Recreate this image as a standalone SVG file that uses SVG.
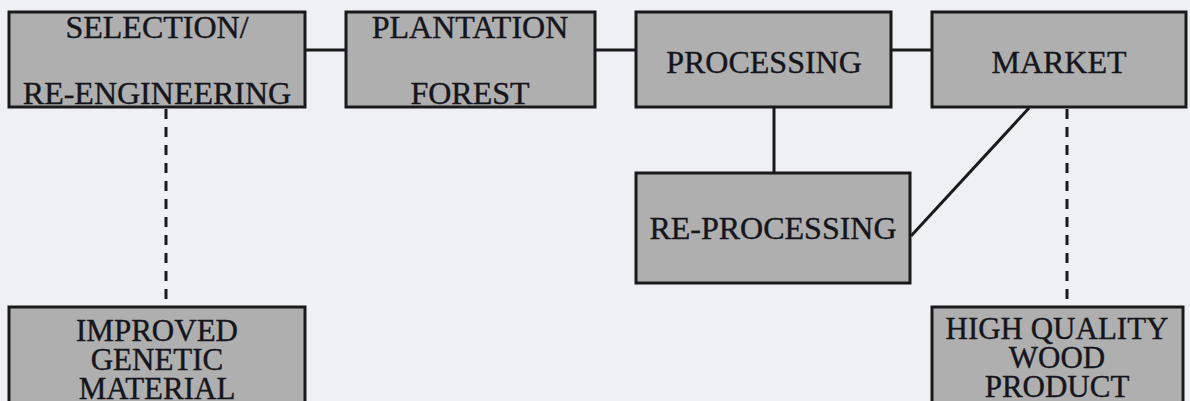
<svg xmlns="http://www.w3.org/2000/svg" width="1190" height="401" viewBox="0 0 1190 401">
<style>
.box{fill:#afafaf;stroke:#1a1a1a;stroke-width:3}
.lbl{font-family:"Liberation Serif","Times New Roman",serif;font-size:32px;fill:#15151c;stroke:#15151c;stroke-width:0.4;text-anchor:middle}
.sm{font-size:31px}
.solid{stroke:#1a1a1a;stroke-width:3;fill:none}
.dash{stroke:#1a1a1a;stroke-width:3;fill:none;stroke-dasharray:10 8}
</style>
<rect width="1190" height="401" fill="#eef0f4"/>
<g id="connectors">
<line class="solid" x1="305" y1="50" x2="346" y2="50"/>
<line class="solid" x1="595" y1="50" x2="636" y2="50"/>
<line class="solid" x1="891" y1="50" x2="932" y2="50"/>
<line class="solid" x1="774" y1="107" x2="774" y2="173"/>
<line class="solid" x1="1029" y1="108" x2="911" y2="236"/>
<line class="dash" x1="166" y1="109" x2="166" y2="307"/>
<line class="dash" x1="1067" y1="109" x2="1067" y2="307"/>
</g>
<g id="selection">
<rect class="box" x="9" y="12" width="296" height="95"/>
<text class="lbl" x="157" y="38">SELECTION/</text>
<text class="lbl" x="157" y="104">RE-ENGINEERING</text>
</g>
<g id="plantation">
<rect class="box" x="346" y="12" width="249" height="95"/>
<text class="lbl" x="470" y="38">PLANTATION</text>
<text class="lbl" x="470" y="104">FOREST</text>
</g>
<g id="processing">
<rect class="box" x="636" y="12" width="255" height="95"/>
<text class="lbl" x="764" y="73">PROCESSING</text>
</g>
<g id="market">
<rect class="box" x="932" y="12" width="254" height="95"/>
<text class="lbl" x="1059" y="73">MARKET</text>
</g>
<g id="reprocessing">
<rect class="box" x="636" y="173" width="274" height="110"/>
<text class="lbl" x="773" y="239">RE-PROCESSING</text>
</g>
<g id="improved">
<rect class="box" x="9" y="307" width="296" height="100"/>
<text class="lbl sm" x="157" y="341">IMPROVED</text>
<text class="lbl sm" x="157" y="370">GENETIC</text>
<text class="lbl sm" x="157" y="399">MATERIAL</text>
</g>
<g id="highquality">
<rect class="box" x="932" y="307" width="251" height="100"/>
<text class="lbl sm" x="1057" y="339">HIGH QUALITY</text>
<text class="lbl sm" x="1057" y="368">WOOD</text>
<text class="lbl sm" x="1057" y="397">PRODUCT</text>
</g>
</svg>
